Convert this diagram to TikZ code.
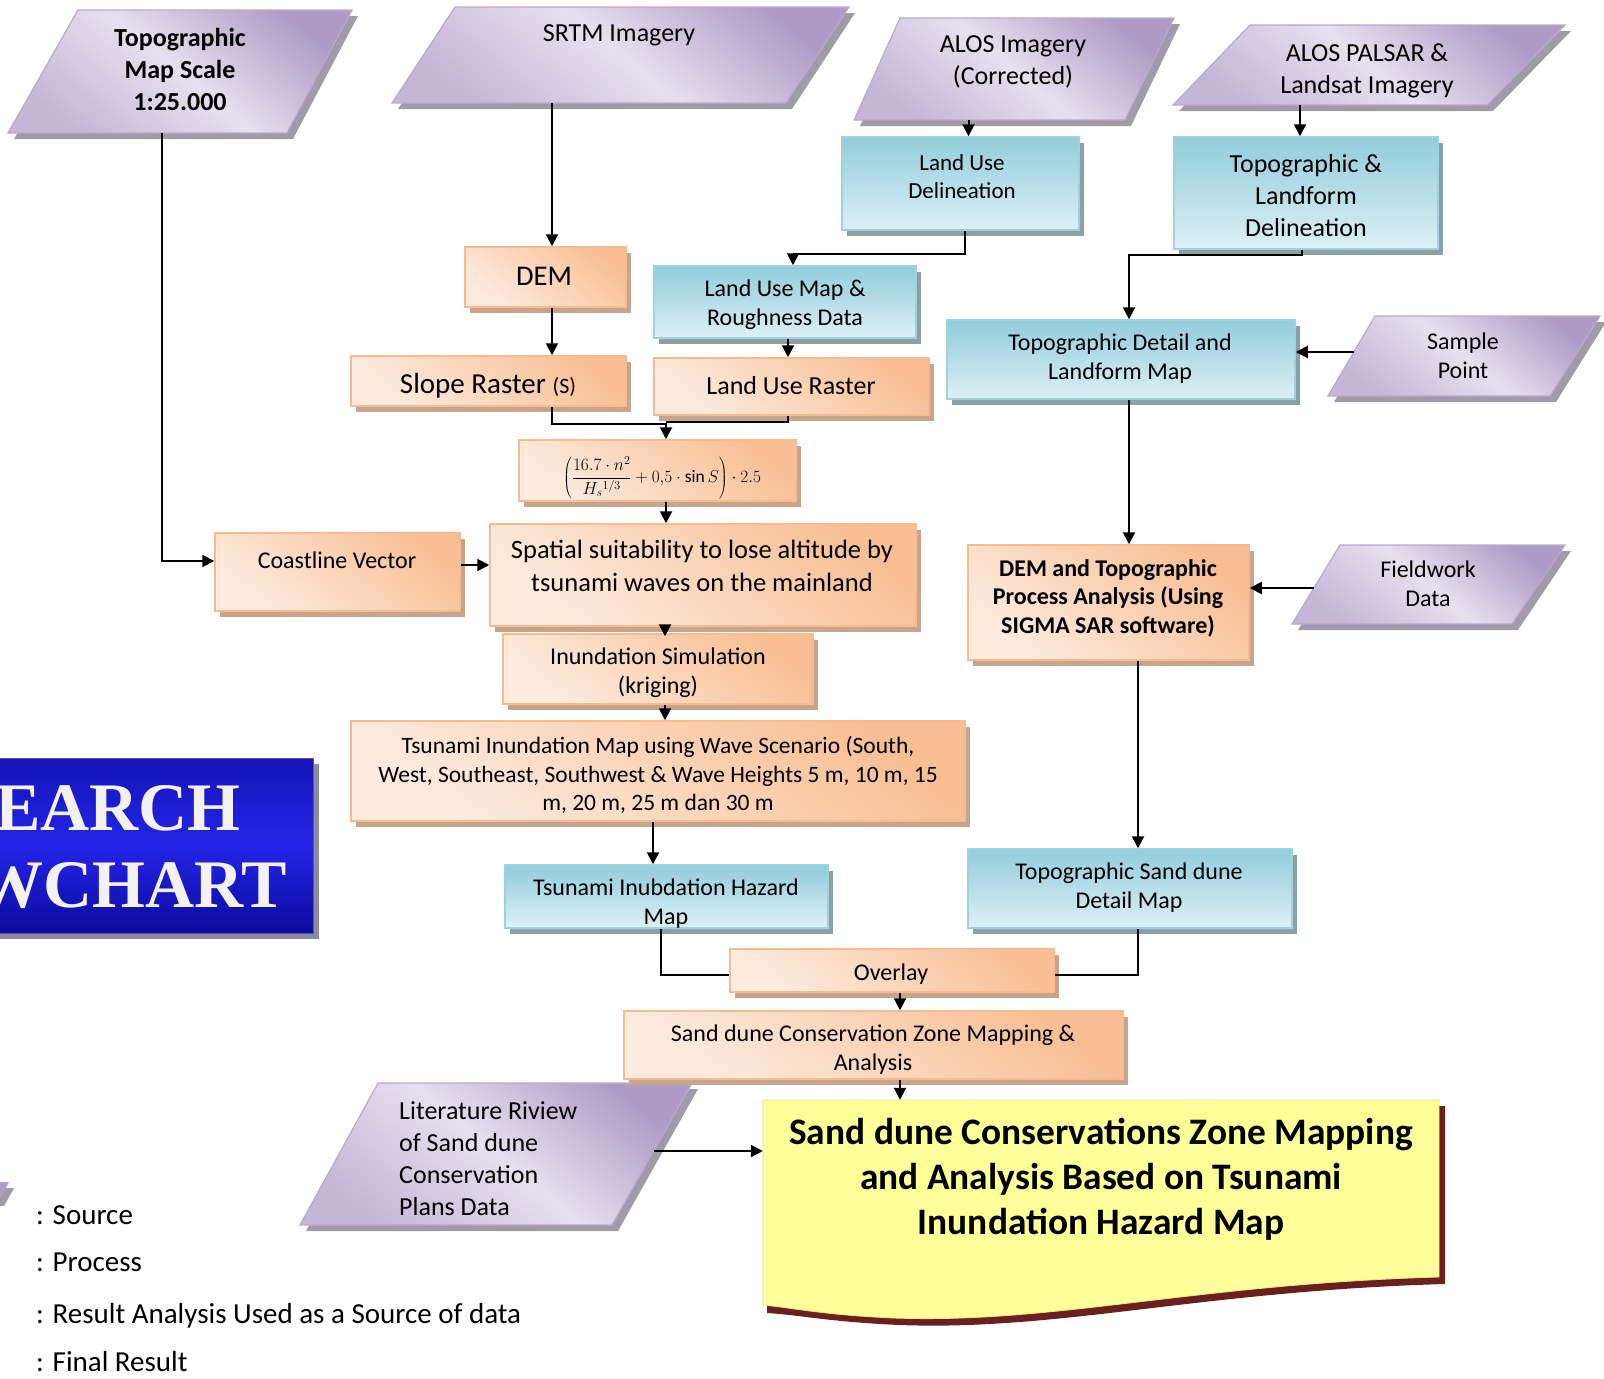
\documentclass[tikz,border=0pt]{standalone}
\usepackage{fontspec}
\setmainfont{Carlito}
\newfontfamily\rsfont{Liberation Serif}
\usetikzlibrary{arrows.meta}

\definecolor{pL}{HTML}{E6E0EE}
\definecolor{pD}{HTML}{AE9CC6}
\definecolor{pB}{HTML}{B9A9CF}
\definecolor{pS}{HTML}{A09BA8}
\definecolor{oL}{HTML}{FDEBDF}
\definecolor{oD}{HTML}{F8BF94}
\definecolor{oB}{HTML}{F6BB8F}
\definecolor{oS}{HTML}{C9A48C}
\definecolor{bL}{HTML}{DDF0F5}
\definecolor{bD}{HTML}{92CCDC}
\definecolor{bB}{HTML}{9DD2DF}
\definecolor{bS}{HTML}{8DA0A5}
\definecolor{yF}{HTML}{FFFF99}
\definecolor{yS}{HTML}{6B2020}
\definecolor{rT}{HTML}{1414B8}
\definecolor{rM}{HTML}{2424E6}
\definecolor{rBt}{HTML}{0B0BA0}
\definecolor{rS}{HTML}{8A8A9A}

\tikzset{
 obox/.style={draw=oB, line width=1.5pt, top color=oD, bottom color=oL, shading angle=-40, inner sep=0pt},
 bluebox/.style={draw=bB, line width=1.5pt, top color=bD, bottom color=bL, inner sep=0pt},
 srcfill/.style={draw=pB, line width=1.2pt, top color=pD, bottom color=pD!60!pL, middle color=pL, shading angle=-40},
 lbl/.style={align=center, inner sep=0pt, font=\fontsize{24}{29}\selectfont},
 lblbig/.style={align=center, inner sep=0pt, font=\fontsize{26}{32}\selectfont},
 lblbold/.style={align=center, inner sep=0pt, font=\bfseries\fontsize{24}{28.5}\selectfont},
 legtext/.style={anchor=west, inner sep=0pt, text height=0.75em, text depth=0.25em, font=\fontsize{29}{34}\selectfont},
 arr/.style={line width=2pt, -{Triangle[length=12pt,width=12pt]}},
 conn/.style={line width=2pt},
}

% style, shadow colour, name, x1, y1, x2, y2
\newcommand\rectnode[7]{%
 \fill[#2] ({#4+5},{#5+6}) rectangle ({#6+5},{#7+6});
 \pgfmathsetmacro\mybw{#6-#4}\pgfmathsetmacro\mybh{#7-#5}%
 \pgfmathsetmacro\mybx{(#4+#6)/2}\pgfmathsetmacro\myby{(#5+#7)/2}%
 \node[#1, minimum width=\mybw pt, minimum height=\mybh pt] (#3) at (\mybx,\myby) {};}

% name, x top-left, x top-right, x bottom-left, x bottom-right, y top, y bottom
\newcommand\srcpar[7]{%
 \fill[pS] ({#4+6},{#7+6}) -- ({#2+6},{#6+6}) -- ({#3+6},{#6+6}) -- ({#5+6},{#7+6}) -- cycle;
 \path[srcfill] (#4,#7) -- (#2,#6) -- (#3,#6) -- (#5,#7) -- cycle;
 \pgfmathsetmacro\mybw{#3-#4}\pgfmathsetmacro\mybh{#7-#6}%
 \pgfmathsetmacro\mybx{(#3+#4)/2}\pgfmathsetmacro\myby{(#6+#7)/2}%
 \node[inner sep=0pt, minimum width=\mybw pt, minimum height=\mybh pt] (#1) at (\mybx,\myby) {};}

\begin{document}
\begin{tikzpicture}[x=1pt,y=-1pt]
\useasboundingbox (0,0) rectangle (1604,1379);
\fill[white] (0,0) rectangle (1604,1379);

% ---------- sources (parallelograms)
\srcpar{topo}{78}{352}{8}{287}{10}{133}
\srcpar{srtm}{455}{849}{392}{786}{7}{103}
\srcpar{alos}{900}{1174}{854}{1125}{18}{120}
\srcpar{palsar}{1250}{1565}{1173}{1487}{25}{105}
\srcpar{sample}{1375}{1600}{1328}{1550}{316}{396}
\srcpar{field}{1340}{1565}{1292}{1512}{545}{624}
\srcpar{lit}{378}{692}{300}{612}{1083}{1225}

% ---------- process boxes
\rectnode{obox}{oS}{dem}{465}{247}{626}{307}
\rectnode{obox}{oS}{slope}{351}{356}{626}{406}
\rectnode{obox}{oS}{lur}{654}{358}{929}{415}
\rectnode{obox}{oS}{formula}{519}{440}{796}{501}
\rectnode{obox}{oS}{coast}{215}{533}{460}{611}
\rectnode{obox}{oS}{spatial}{490}{524}{916}{626}
\rectnode{obox}{oS}{inund}{503}{634}{813}{704}
\rectnode{obox}{oS}{tmap}{351}{721}{965}{821}
\rectnode{obox}{oS}{overlay}{730}{949}{1054}{992}
\rectnode{obox}{oS}{sdz}{624}{1011}{1123}{1079}
\rectnode{obox}{oS}{demp}{968}{545}{1249}{660}

% ---------- result boxes
\rectnode{bluebox}{bS}{lud}{842}{137}{1079}{230}
\rectnode{bluebox}{bS}{tld}{1174}{137}{1438}{249}
\rectnode{bluebox}{bS}{lum}{654}{266}{916}{338}
\rectnode{bluebox}{bS}{tdm}{947}{320}{1295}{399}
\rectnode{bluebox}{bS}{hazard}{505}{865}{828}{928}
\rectnode{bluebox}{bS}{tsd}{968}{849}{1292}{928}

% ---------- final result (document shape)
\fill[yS] (767,1106) -- (1445,1106) -- (1445,1284) .. controls (1200,1291) and (1060,1331) .. (900,1325) .. controls (830,1322) and (800,1315) .. (767,1313) -- cycle;
\path[fill=yF, draw=yF!90!black, line width=0.8pt] (763,1100) -- (1439,1100) -- (1439,1277) .. controls (1194,1284) and (1054,1324) .. (894,1318) .. controls (824,1315) and (794,1308) .. (763,1305) -- cycle;
\node[inner sep=0pt, minimum width=676pt, minimum height=205pt] (final) at (1101,1202.5) {};

% ---------- research flowchart banner
\fill[rS] (-4,764) rectangle (319,939);
\node[draw=rBt!70!white, line width=1pt, top color=rT, bottom color=rBt, middle color=rM, inner sep=0pt, minimum width=323pt, minimum height=175pt] (research) at (151.5,845.5) {};
\node[anchor=base east, inner sep=0pt, text=white!90!gray, font=\rsfont\bfseries\fontsize{68}{72}\selectfont] (research-a) at (241,830) {EARCH};
\node[anchor=base east, inner sep=0pt, text=white!90!gray, font=\rsfont\bfseries\fontsize{68}{72}\selectfont] (research-b) at (287,907) {WCHART};

% legend symbol sliver
\fill[pS] (0,1188) -- (14,1188) -- (4,1206) -- (0,1206) -- cycle;
\fill[pD] (0,1182) -- (9,1182) -- (0,1199) -- cycle;

% ---------- texts
\node[lblbig, font=\bfseries\fontsize{26}{32}\selectfont] (topo-t) at (180,69) {Topographic\\Map Scale\\1:25.000};
\node[lblbig] (srtm-t) at (619,35) {SRTM Imagery};
\node[lblbig] (alos-t) at (1013,62) {ALOS Imagery\\(Corrected)};
\node[lblbig] (palsar-t) at (1367,71) {ALOS PALSAR \&\\Landsat Imagery};
\node[lbl, font=\fontsize{23}{28}\selectfont] (lud-t) at (962,177) {Land Use\\Delineation};
\node[lblbig] (tld-t) at (1306,196) {Topographic \&\\Landform\\Delineation};
\node[lbl, font=\fontsize{28.5}{32}\selectfont] (dem-t) at (544,276) {DEM};
\node[lbl] (lum-t) at (785,305) {Land Use Map \&\\Roughness Data};
\node[lbl, font=\fontsize{29}{32}\selectfont] (slope-t) at (488,386) {Slope Raster {\fontsize{22}{26}\selectfont(S)}};
\node[lblbig] (lur-t) at (791,386) {Land Use Raster};
\node[inner sep=0pt, font=\fontsize{17.5}{21}\selectfont] (formula-t) at (662,478) {$\displaystyle\left(\frac{16.7\cdot n^{2}}{H_{s}{}^{1/3}}+0{,}5\cdot\sin S\right)\cdot 2.5$};
\node[lbl] (coast-t) at (337,560) {Coastline Vector};
\node[lblbig, font=\fontsize{26.5}{33}\selectfont] (spatial-t) at (702,566) {Spatial suitability to lose altitude by\\tsunami waves on the mainland};
\node[lbl] (inund-t) at (658,673) {Inundation Simulation\\(kriging)};
\node[lbl, font=\fontsize{23.5}{28.5}\selectfont] (tmap-t) at (658,775) {Tsunami Inundation Map using Wave Scenario (South,\\West, Southeast, Southwest \& Wave Heights 5 m, 10 m, 15\\m, 20 m, 25 m dan 30 m};
\node[lbl] (hazard-t) at (666,904) {Tsunami Inubdation Hazard\\Map};
\node[lbl] (tdm-t) at (1120,359) {Topographic Detail and\\Landform Map};
\node[lbl] (sample-t) at (1463,356) {Sample\\Point};
\node[lblbold] (demp-t) at (1108,598) {DEM and Topographic\\Process Analysis (Using\\SIGMA SAR software)};
\node[lbl] (field-t) at (1428,584) {Fieldwork\\Data};
\node[lbl] (tsd-t) at (1129,888) {Topographic Sand dune\\Detail Map};
\node[lbl] (overlay-t) at (891,974) {Overlay};
\node[lbl] (sdz-t) at (873,1050) {Sand dune Conservation Zone Mapping \&\\Analysis};
\node[lblbig, anchor=west, align=left] (lit-t) at (399,1159) {Literature Riview\\of Sand dune\\Conservation\\Plans Data};
\node[align=center, inner sep=0pt, font=\bfseries\fontsize{37.4}{45}\selectfont] (final-t) at (1101,1179) {Sand dune Conservations Zone Mapping\\and Analysis Based on Tsunami\\Inundation Hazard Map};

% legend
\node[legtext] (leg1) at (36,1222) {: Source};
\node[legtext] (leg2) at (36,1269) {: Process};
\node[legtext] (leg3) at (36,1321) {: Result Analysis Used as a Source of data};
\node[legtext] (leg4) at (36,1369) {: Final Result};

% ---------- connectors
\draw[arr] ([xshift=-18pt]topo.south) |- ([yshift=11pt]coast.west);
\draw[arr] ([yshift=7pt]coast.east) -- ([yshift=7pt]coast.east -| spatial.west);
\draw[arr] ([xshift=6.5pt]dem.north |- srtm.south) -- ([xshift=6.5pt]dem.north);
\draw[arr] ([xshift=8pt]lud.north |- alos.south) -- ([xshift=8pt]lud.north);
\draw[arr] ([xshift=-6pt]tld.north |- palsar.south) -- ([xshift=-6pt]tld.north);
\draw[arr] ([xshift=6.5pt]dem.south) -- ([xshift=6.5pt]dem.south |- slope.north);
\draw[arr] ([xshift=4.5pt]lud.south) -- ++(0,23) -| ([xshift=8pt]lum.north);
\draw[arr] ([xshift=3pt]lum.south) -- ([xshift=3pt]lum.south |- lur.north);
\draw[arr] ([xshift=63.5pt]slope.south) -- ++(0,17) -| ([xshift=8.5pt]formula.north);
\draw[conn] ([xshift=-3.5pt]lur.south) |- ([xshift=8.5pt,yshift=17pt]formula.north);
\draw[arr] ([xshift=8.5pt]formula.south) -- ([xshift=8.5pt]formula.south |- spatial.north);
\draw[arr] ([xshift=7pt]inund.north |- spatial.south) -- ([xshift=7pt,yshift=-3pt]inund.north);
\draw[arr] ([xshift=7pt]inund.south) -- ([xshift=7pt]inund.south |- tmap.north);
\draw[arr] ([xshift=-13.5pt]hazard.north |- tmap.south) -- ([xshift=-13.5pt]hazard.north);
\draw[conn] ([xshift=-5.5pt]hazard.south) |- ([yshift=-4.5pt]overlay.west);
\draw[conn] ([xshift=8pt]tsd.south) |- ([yshift=-4.5pt]overlay.east);
\draw[arr] ([xshift=8pt]overlay.south) -- ([xshift=8pt]overlay.south |- sdz.north);
\draw[arr] ([xshift=26.5pt]sdz.south) -- ([xshift=26.5pt]sdz.south |- final.north);
\draw[arr] ([xshift=-38pt,yshift=3pt]lit.east) -- ([yshift=3pt]lit.east -| final.west);
\draw[arr] ([xshift=-4pt]tld.south) -- ++(0,5) -| ([xshift=8pt]tdm.north);
\draw[arr] ([xshift=26pt,yshift=4pt]sample.west) -- ([yshift=4pt]sample.west -| tdm.east);
\draw[arr] ([xshift=8pt]tdm.south) -- ([xshift=8pt]tdm.south |- demp.north);
\draw[arr] ([xshift=22pt,yshift=-3.5pt]field.west) -- ([yshift=-3.5pt]field.west -| demp.east);
\draw[arr] ([xshift=8pt]tsd.north |- demp.south) -- ([xshift=8pt]tsd.north);
\end{tikzpicture}
\end{document}
